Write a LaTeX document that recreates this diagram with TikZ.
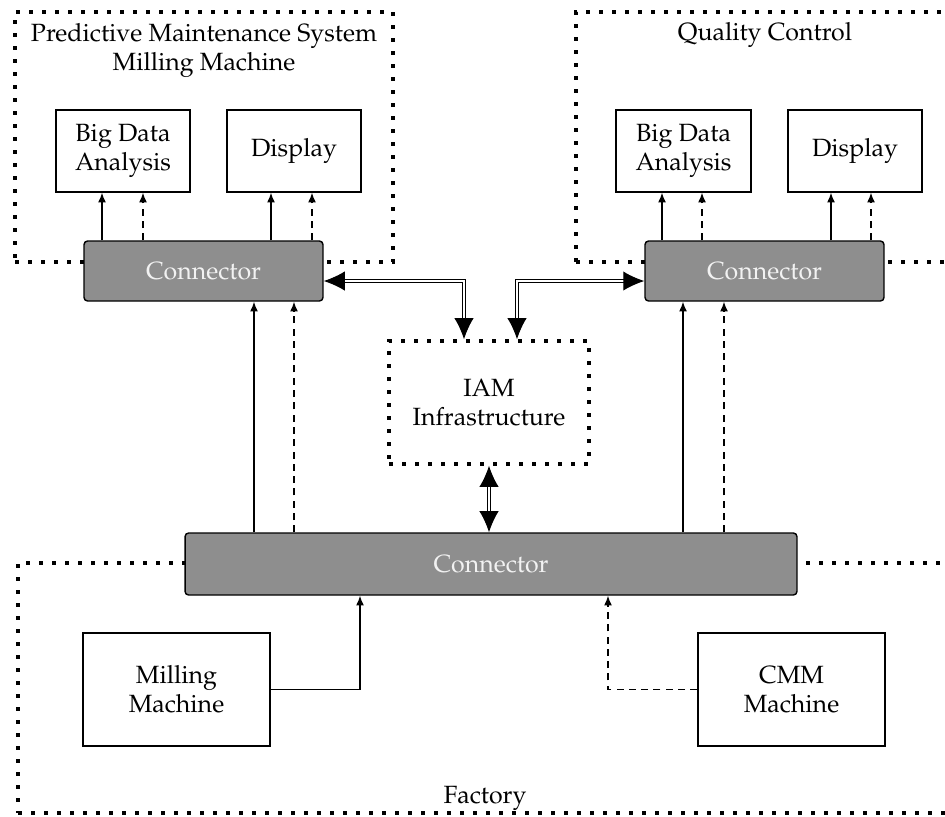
\documentclass[tikz,border=0pt]{standalone}
\usepackage[T1]{fontenc}
\usepackage{mathpazo}
\usetikzlibrary{arrows.meta,calc,fit}
\definecolor{congray}{HTML}{8E8E8E}
\definecolor{context}{HTML}{F2F2F2}
\begin{document}
\begin{tikzpicture}[x=0.02cm,y=-0.02cm,
  font=\fontsize{14.2}{16.5}\selectfont,
  region/.style={draw, line width=2pt, dash pattern=on 2pt off 5.4pt, inner sep=0pt},
  box/.style={draw, line width=0.8pt, inner sep=0pt, align=center, fill=white},
  sbox/.style={box, minimum width=2.68cm, minimum height=1.64cm},
  mbox/.style={box, minimum width=3.74cm, minimum height=2.26cm},
  conn/.style={draw, line width=0.8pt, inner sep=0pt, fill=congray, text=context, rounded corners=2pt},
  sa/.style={line width=0.8pt, -{Latex[length=5.5pt,width=4.5pt]}},
  sad/.style={sa, dash pattern=on 4pt off 3pt},
  da/.style={double, double distance=1.3pt, line width=0.6pt, {Latex[length=12pt,width=11pt]}-{Latex[length=12pt,width=11pt]}}
]
\useasboundingbox (0,0) rectangle (945,816);
\clip (0,0) rectangle (945,816);

% regions
\node[region, fit={(15,12)(393,262)}] (pms) {};
\node[region, fit={(576,12)(965,262)}] (qc) {};
\node[region, fit={(18,563)(965,813)}] (fac) {};
\node[region, minimum width=4cm, minimum height=2.46cm, align=center] (iam) at (489,402.5) {IAM\\Infrastructure};

% titles
\node[align=center] (t1) at (204,50) {Predictive Maintenance System\\Milling Machine};
\node[anchor=base] (t2) at (765,40) {Quality Control};
\node[anchor=base] (t3) at (485,803) {Factory};

% boxes
\node[sbox] (bda1) at (123,151) {Big Data\\Analysis};
\node[sbox] (disp1) at (294,151) {Display};
\node[sbox, minimum width=2.7cm] (bda2) at (683.5,151) {Big Data\\Analysis};
\node[sbox] (disp2) at (855,151) {Display};
\node[mbox] (mm) at (176.5,689.5) {Milling\\Machine};
\node[mbox] (cmm) at (791.5,689.5) {CMM\\Machine};

% connectors
\node[conn, minimum width=4.78cm, minimum height=1.2cm] (c1) at (203.5,271) {Connector};
\node[conn, minimum width=4.78cm, minimum height=1.2cm] (c2) at (764.5,271) {Connector};
\node[conn, minimum width=12.24cm, minimum height=1.24cm] (c3) at (491,564) {Connector};

% arrows connector -> boxes
\coordinate (a1) at ($(bda1.south)+(-21,0)$);
\coordinate (a2) at ($(bda1.south)+(20,0)$);
\coordinate (a3) at ($(disp1.south)+(-23,0)$);
\coordinate (a4) at ($(disp1.south)+(18,0)$);
\coordinate (b1) at ($(bda2.south)+(-21.5,0)$);
\coordinate (b2) at ($(bda2.south)+(18.5,0)$);
\coordinate (b3) at ($(disp2.south)+(-24,0)$);
\coordinate (b4) at ($(disp2.south)+(16,0)$);
\draw[sa]  (c1.north -| a1) -- (a1);
\draw[sad] (c1.north -| a2) -- (a2);
\draw[sa]  (c1.north -| a3) -- (a3);
\draw[sad] (c1.north -| a4) -- (a4);
\draw[sa]  (c2.north -| b1) -- (b1);
\draw[sad] (c2.north -| b2) -- (b2);
\draw[sa]  (c2.north -| b3) -- (b3);
\draw[sad] (c2.north -| b4) -- (b4);

% arrows bottom connector -> top connectors
\coordinate (u1) at ($(c1.south)+(50.5,0)$);
\coordinate (u2) at ($(c1.south)+(90.5,0)$);
\coordinate (u3) at ($(c2.south)+(-81.5,0)$);
\coordinate (u4) at ($(c2.south)+(-40.5,0)$);
\draw[sa]  (c3.north -| u1) -- (u1);
\draw[sad] (c3.north -| u2) -- (u2);
\draw[sa]  (c3.north -| u3) -- (u3);
\draw[sad] (c3.north -| u4) -- (u4);

% machines -> bottom connector
\coordinate (m1) at ($(c3.south)+(-131,0)$);
\coordinate (m2) at ($(c3.south)+(117,0)$);
\draw[sa]  (mm.east) -| (m1);
\draw[sad] (cmm.west) -| (m2);

% double arrows
\coordinate (q1) at ($(c1.east)+(0,10)$);
\coordinate (q2) at ($(c2.west)+(0,10)$);
\coordinate (iL) at ($(iam.north)+(-25,0)$);
\coordinate (iR) at ($(iam.north)+(28,0)$);
\draw[da] (q1) -| (iL);
\draw[da] (iR) |- (q2);
\draw[da] (iam.south) -- (iam.south |- c3.north);
\end{tikzpicture}
\end{document}
